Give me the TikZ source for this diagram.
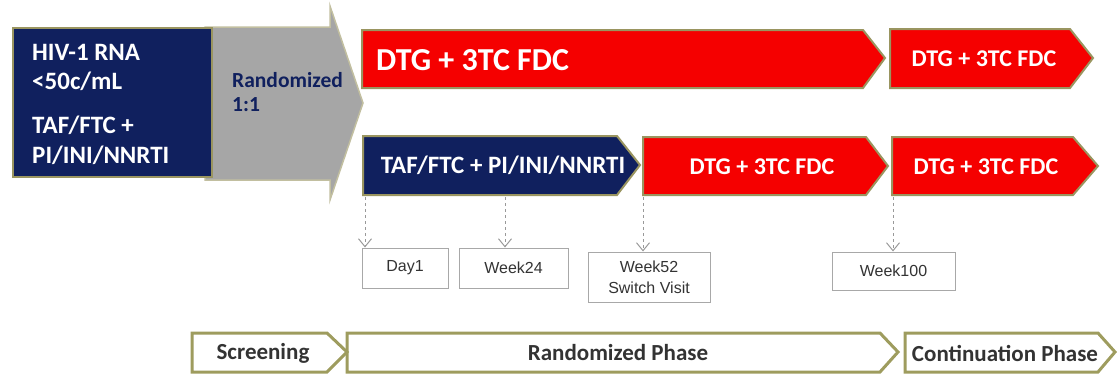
\documentclass[tikz,border=0pt]{standalone}
\usepackage{fontspec}
\setmainfont{Carlito}
\newfontfamily\boxfont{Liberation Sans}
\usetikzlibrary{arrows.meta}
\definecolor{navy}{HTML}{10205E}
\definecolor{olive}{HTML}{9A9560}
\definecolor{phaseol}{HTML}{9E9C5E}
\definecolor{redfill}{HTML}{F50000}
\definecolor{greyfill}{HTML}{A6A6A6}
\definecolor{darktext}{HTML}{333333}
\definecolor{boxgrey}{HTML}{A8A8A8}
\tikzset{
  navyshape/.style={fill=navy, draw=olive, line width=2.5pt, line join=miter},
  redshape/.style={fill=redfill, draw=olive, line width=2pt, line join=miter},
  greyshape/.style={fill=greyfill, draw=olive!60, line width=1.5pt, line join=miter},
  phaseshape/.style={fill=white, draw=phaseol, line width=3pt, line join=miter},
  whitelbl/.style={text=white, font=\bfseries, inner sep=0pt},
  boxlbl/.style={whitelbl, anchor=west, font=\bfseries\fontsize{25}{28}\selectfont},
  smalllbl/.style={whitelbl, font=\bfseries\fontsize{24}{28}\selectfont},
  visitbox/.style={draw=boxgrey, line width=1pt, fill=white, align=center, font=\boxfont\fontsize{16}{21}\selectfont, text=darktext},
  phaselbl/.style={text=darktext, font=\bfseries\fontsize{23}{26}\selectfont, inner sep=0pt},
  dasharrow/.style={draw=gray!80, dashed, line width=1pt, -{Straight Barb[length=8pt,width=13pt,line width=1pt]}}
}
\begin{document}
\begin{tikzpicture}[x=1pt,y=-1pt]
\useasboundingbox (0,0) rectangle (1117,376);
% grey randomization arrow
\path[greyshape] (205,27) -- (330,27) -- (330,6) -- (363,103) -- (330,200) -- (330,180) -- (205,180) -- cycle;
\node[text=navy, font=\bfseries\fontsize{21.5}{24}\selectfont, align=left, anchor=west, inner sep=0pt] (rand) at (232,92) {Randomized\\1:1};
% navy screening box
\path[navyshape] (13,28) rectangle (212,177);
\node[boxlbl] (hiv) at (32,52) {HIV-1 RNA};
\node[boxlbl] (rna) at (32,81) {<50c/mL};
\node[boxlbl] (taf) at (32,125) {TAF/FTC +};
\node[boxlbl] (pi) at (32,155) {PI/INI/NNRTI};
% top row
\path[redshape] (362,30) -- (863,30) -- (885,58) -- (863,88) -- (362,88) -- cycle;
\node[whitelbl, anchor=west, font=\bfseries\fontsize{32}{36}\selectfont] (dtgA) at (376,60) {DTG + 3TC FDC};
\path[redshape] (890,29) -- (1070,29) -- (1093,58) -- (1070,88) -- (890,88) -- cycle;
\node[smalllbl] (dtgB) at (984,59) {DTG + 3TC FDC};
% bottom row
\path[navyshape, line width=2pt] (363,136) -- (617,136) -- (640,165) -- (617,195) -- (363,195) -- cycle;
\node[smalllbl, font=\bfseries\fontsize{25}{28}\selectfont] (tafB) at (503,165) {TAF/FTC + PI/INI/NNRTI};
\path[redshape] (643,137) -- (866,137) -- (888,166) -- (866,195) -- (643,195) -- cycle;
\node[smalllbl] (dtgC) at (762,167) {DTG + 3TC FDC};
\path[redshape] (892,137) -- (1073,137) -- (1098,166) -- (1073,195) -- (892,195) -- cycle;
\node[smalllbl] (dtgD) at (986,167) {DTG + 3TC FDC};
% visit boxes
\node[visitbox, minimum width=86pt, minimum height=40pt] (day1) at (405,268) {Day1};
\node[visitbox, minimum width=109pt, minimum height=40pt] (wk24) at (513.5,268) {Week24};
\node[visitbox, minimum width=122pt, minimum height=50pt] (wk52) at (649,277) {Week52\\Switch Visit};
\node[visitbox, minimum width=123pt, minimum height=38pt] (wk100) at (893.5,271) {Week100};
% dashed connectors
\coordinate (c1) at (365,197);
\coordinate (c2) at (505,197);
\coordinate (c3) at (643,197);
\coordinate (c4) at (893,197);
\draw[dasharrow] (c1) -- (c1 |- day1.north);
\draw[dasharrow] (c2) -- (c2 |- wk24.north);
\draw[dasharrow] (c3) -- (c3 |- wk52.north);
\draw[dasharrow] (c4) -- (c4 |- wk100.north);
% phases
\path[phaseshape] (347,333) -- (880,333) -- (898,352) -- (880,372) -- (347,372) -- cycle;
\path[phaseshape] (192,333) -- (327,333) -- (347,352) -- (327,372) -- (192,372) -- cycle;
\path[phaseshape] (905,333) -- (1098,333) -- (1115,352) -- (1098,372) -- (905,372) -- cycle;
\node[phaselbl] (scr) at (263,353) {Screening};
\node[phaselbl] (rph) at (618,353) {Randomized Phase};
\node[phaselbl] (cph) at (1005,353) {Continuation Phase};
\end{tikzpicture}
\end{document}
